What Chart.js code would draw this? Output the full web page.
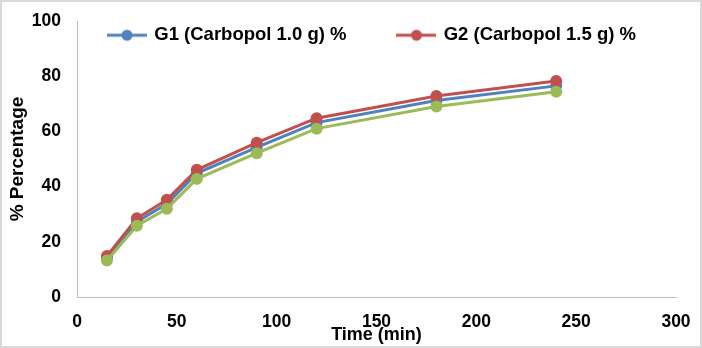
<!DOCTYPE html>
<html>
<head>
<meta charset="utf-8">
<script src="https://cdn.jsdelivr.net/npm/chart.js@4"></script>
<style>
  html, body { margin: 0; padding: 0; background: #fff; }
  #wrap { width: 702px; height: 348px; box-sizing: border-box; border: 2px solid #d9d9d9; }
  #chart { display: block; }
</style>
</head>
<body>
<div id="wrap"><canvas id="chart" width="698" height="344"></canvas></div>
<script>
// time points (min)
const times = [15, 30, 45, 60, 90, 120, 180, 240];
const g1Values = [14.2, 27.3, 33.8, 44.8, 54.2, 63.2, 71.2, 76.5];
const g2Values = [14.9, 28.5, 35.2, 46.1, 55.9, 64.8, 72.8, 78.3];
const g3Values = [13.2, 25.8, 32.0, 42.8, 52.1, 61.0, 69.0, 74.4];
const seriesNames = ['G1 (Carbopol 1.0 g) %', 'G2 (Carbopol 1.5 g) %', 'G3'];

const blue = '#4f81bd';
const red = '#c0504d';
const green = '#9bbb59';
const fontFamily = '"Liberation Sans", Arial, sans-serif';

const legendPad = 52;
const legendFont = 18.5;

function toPoints(vals) {
    return times.map((t, i) => ({ x: t, y: vals[i] }));
}

// legend marker: short line with a dot in the middle
function markerImage(color) {
    const c = document.createElement('canvas');
    c.width = 40;
    c.height = 14;
    const ctx = c.getContext('2d');
    ctx.strokeStyle = color;
    ctx.lineWidth = 3;
    ctx.beginPath();
    ctx.moveTo(0, 7);
    ctx.lineTo(40, 7);
    ctx.stroke();
    ctx.fillStyle = color;
    ctx.beginPath();
    ctx.arc(20, 7, 5.5, 0, Math.PI * 2);
    ctx.fill();
    return c;
}

function makeDataset(name, vals, color, order) {
    return {
        label: name,
        data: toPoints(vals),
        borderColor: color,
        backgroundColor: color,
        borderWidth: 3,
        pointRadius: 6,
        pointHoverRadius: 6,
        pointBorderWidth: 0,
        tension: 0,
        order: order,
    };
}

// legend sits inside the plot area like the original, so move it after layout
const legendInside = {
    id: 'legendInside',
    afterLayout(chart) {
        const lg = chart.legend;
        if (!lg) return;
        lg.top = 24 - legendPad;
        lg.bottom = lg.top + 140;
        lg.left = 107 - legendPad;
        lg.right = lg.left + 640;
        lg.height = lg.bottom - lg.top;
        lg.width = lg.right - lg.left;
    }
};

const ctx = document.getElementById('chart').getContext('2d');
new Chart(ctx, {
    type: 'line',
    data: {
        datasets: [
            makeDataset(seriesNames[0], g1Values, blue, 2),
            makeDataset(seriesNames[1], g2Values, red, 1),
            makeDataset(seriesNames[2], g3Values, green, 0),
        ]
    },
    plugins: [legendInside],
    options: {
        responsive: false,
        animation: false,
        layout: { padding: { left: 0, right: 24, top: 19, bottom: 0 } },
        plugins: {
            tooltip: { enabled: false },
            legend: {
                position: 'top',
                align: 'start',
                maxHeight: 0.01,
                labels: {
                    color: '#000',
                    font: { family: fontFamily, size: legendFont, weight: 'bold' },
                    usePointStyle: true,
                    pointStyleWidth: 36,
                    padding: legendPad,
                    generateLabels: (chart) => [blue, red].map((color, i) => ({
                        text: chart.data.datasets[i].label,
                        pointStyle: markerImage(color),
                        fillStyle: color,
                        strokeStyle: color,
                        lineWidth: 0,
                        datasetIndex: i,
                        hidden: false,
                        fontColor: '#000',
                    })),
                },
            },
        },
        scales: {
            x: {
                type: 'linear',
                min: 0,
                max: 300,
                grid: { display: false, drawTicks: false },
                border: { color: '#bfbfbf', width: 1 },
                ticks: {
                    stepSize: 50,
                    color: '#000',
                    padding: 15,
                    font: { family: fontFamily, size: 17.5, weight: 'bold' },
                },
                title: {
                    display: true,
                    text: 'Time (min)',
                    color: '#000',
                    padding: { top: -12, bottom: 0 },
                    font: { family: fontFamily, size: 18, weight: 'bold' },
                },
                afterFit: (scale) => {
                    scale.height = 49;
                    scale.paddingLeft = 0;
                    scale.paddingRight = 0;
                },
            },
            y: {
                min: 0,
                max: 100,
                grid: { display: false, drawTicks: false },
                border: { color: '#bfbfbf', width: 1 },
                ticks: {
                    stepSize: 20,
                    color: '#000',
                    padding: 16,
                    font: { family: fontFamily, size: 17.5, weight: 'bold' },
                },
                title: {
                    display: true,
                    text: '% Percentage',
                    color: '#000',
                    font: { family: fontFamily, size: 19, weight: 'bold' },
                },
                afterFit: (scale) => {
                    scale.width = 75;
                    scale.paddingTop = 0;
                    scale.paddingBottom = 0;
                },
            },
        },
    },
});
</script>
</body>
</html>
